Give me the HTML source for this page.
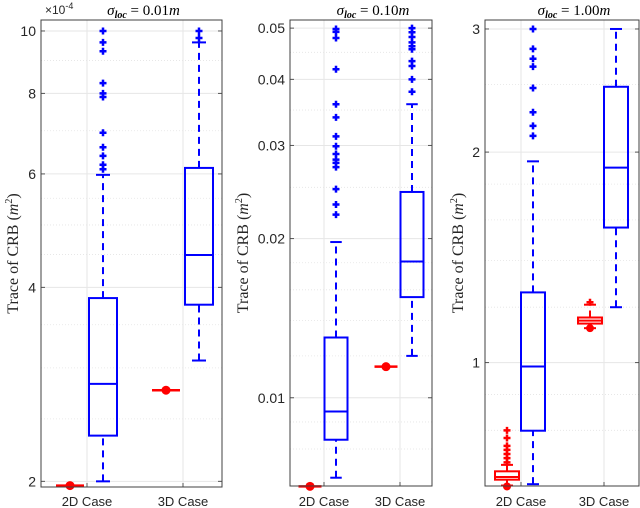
<!DOCTYPE html>
<html><head><meta charset="utf-8"><style>
html,body{margin:0;padding:0;background:#fff;}
svg{display:block;font-family:"Liberation Sans",Arial,sans-serif;}
</style></head><body>
<svg id="chart" width="640" height="508" viewBox="0 0 640 508" xmlns="http://www.w3.org/2000/svg"></svg>
<script>
// ---- data ----
const categories = ["2D Case","3D Case"];
const panelTitles = ["0.01m","0.10m","1.00m"];
const yTickLabels1 = [2,4,6,8,10];
const yTickLabels2 = [0.01,0.02,0.03,0.04,0.05];
const yTickLabels3 = [1,2,3];
// blue boxes: [lowWhisker, q1, median, q3, highWhisker]
const blue1 = [[2.0,2.355,2.834,3.85,5.98],[3.08,3.76,4.49,6.13,9.6]];
const blueOut1 = [[10,9.6,9.3,8.3,8.0,7.9,6.95,6.6,6.4,6.2,6.1],[10,9.75]];
const red1 = [[1.97,1.97,1.97,1.97,1.97],[2.77,2.77,2.77,2.77,2.77]];
const blue2 = [[0.00706,0.00833,0.00942,0.0130,0.0197],[0.0120,0.0155,0.0181,0.0245,0.0359]];
const blueOut2 = [[0.0498,0.0492,0.0479,0.0418,0.0359,0.0339,0.0312,0.0299,0.0289,0.0282,0.0278,0.0273,0.0248,0.0232,0.0222],[0.050,0.0491,0.0481,0.0470,0.0462,0.0456,0.0433,0.0424,0.0400,0.0379]];
const red2 = [[0.0068,0.0068,0.0068,0.0068,0.0068],[0.01145,0.01145,0.01145,0.01145,0.01145]];
const blue3 = [[0.67,0.799,0.987,1.26,1.94],[1.20,1.56,1.90,2.48,3.0]];
const blueOut3 = [[3.0,2.81,2.72,2.65,2.47,2.28,2.18,2.11],[]];
const red3 = [[0.667,0.68,0.686,0.699,0.714],[1.12,1.137,1.148,1.160,1.21]];
const redOut3 = [[0.80,0.78,0.76,0.75,0.74,0.73,0.72],[1.22]];
const redLowOut3 = [[0.665],[1.12]];

const panels = [
 {L:41,R:222,T:20,B:487,ymin:1.96,ymax:10.4,ticks:yTickLabels1,fmt:v=>String(v),tx:[87,183],blue:blue1,bout:blueOut1,red:red1,rout:[[],[]],rlow:[[],[]],degenerate:true,bw:28,labX:13,minor:[2.5,3,3.5,4.5,5,5.5,7,9]},
 {L:290,R:432,T:20,B:486,ymin:0.00681,ymax:0.0518,ticks:yTickLabels2,fmt:v=>v.toFixed(2),tx:[324,400],blue:blue2,bout:blueOut2,red:red2,rout:[[],[]],rlow:[[],[]],degenerate:true,bw:23,labX:243,minor:[0.008,0.009,0.012,0.014,0.016,0.018,0.025,0.035,0.045]},
 {L:485,R:639,T:20,B:486,ymin:0.666,ymax:3.09,ticks:yTickLabels3,fmt:v=>String(v),tx:[521,604],blue:blue3,bout:blueOut3,red:red3,rout:redOut3,rlow:redLowOut3,degenerate:false,bw:24,labX:458,minor:[0.8,0.9,1.2,1.4,1.6,1.8,2.5]}
];
const NS="http://www.w3.org/2000/svg";
const svg=document.getElementById('chart');
function mk(tag,attrs,parent){const e=document.createElementNS(NS,tag);for(const k in attrs)e.setAttribute(k,attrs[k]);(parent||svg).appendChild(e);return e;}
const BLUE="#0000ff",RED="#ff0000";

panels.forEach((p,pi)=>{
  const g=mk('g',{});
  
  
  const y=v=>p.B-(Math.log(v)-Math.log(p.ymin))/(Math.log(p.ymax)-Math.log(p.ymin))*(p.B-p.T);
  p.minor.forEach(v=>{const l=mk('line',{x1:p.L,x2:p.R,y1:y(v),y2:y(v),stroke:"#e4e4e4","stroke-width":0.8,"stroke-dasharray":"1,2"},g);
    });
  p.ticks.forEach(v=>{const l=mk('line',{x1:p.L,x2:p.R,y1:y(v),y2:y(v),stroke:"#e6e6e6","stroke-width":1},g);
    });
  p.tx.forEach(x=>{const l=mk('line',{x1:x,x2:x,y1:p.T,y2:p.B,stroke:"#e6e6e6","stroke-width":1},g);
    });
  p.ticks.forEach(v=>{
    mk('line',{x1:p.L,x2:p.L+4,y1:y(v),y2:y(v),stroke:"#555"},g);
    mk('line',{x1:p.R,x2:p.R-4,y1:y(v),y2:y(v),stroke:"#555"},g);
    const t=mk('text',{x:p.L-5,y:y(v)+5,"text-anchor":"end","font-size":14,fill:"#262626"},g);
    t.textContent=p.fmt(v);
    
  });
  p.tx.forEach((x,i)=>{
    mk('line',{x1:x,x2:x,y1:p.B,y2:p.B-4,stroke:"#555"},g);
    const t=mk('text',{x:x,y:506,"text-anchor":"middle","font-size":13,fill:"#262626"},g);
    t.textContent=categories[i];
    
  });
  const yl=mk('text',{x:0,y:0,transform:`translate(${p.labX+5},${(p.T+p.B)/2}) rotate(-90)`,"text-anchor":"middle","font-size":16,fill:"#262626","font-family":"Liberation Serif,serif"},g);
  yl.innerHTML='Trace of CRB (<tspan font-style="italic">m</tspan><tspan font-size="10" dy="-6">2</tspan><tspan dy="6">)</tspan>';
  
  const tt=mk('text',{x:(p.L+p.R)/2+12,y:15,"text-anchor":"middle","font-size":15,fill:"#000","font-family":"Liberation Serif,serif"},g);
  tt.innerHTML='<tspan font-style="italic">σ</tspan><tspan font-size="10" dy="3" font-style="italic" font-weight="bold">loc</tspan><tspan dy="-3"> = '+panelTitles[pi].slice(0,-1)+'</tspan><tspan font-style="italic">m</tspan>';
  
  if(pi===0){const e=mk('text',{x:45,y:14,"font-size":12,fill:"#262626"},g);
    e.innerHTML='×10<tspan font-size="9" dy="-5">-4</tspan>';
    }
  function drawBox(s,cx,color,outs,lows,name){
    const bg=mk('g',{},g);
    
    const hw=p.bw/2;
    mk('line',{x1:cx,x2:cx,y1:y(s[0]),y2:y(s[1]),stroke:color,"stroke-width":2,"stroke-dasharray":"7,5"},bg);
    mk('line',{x1:cx,x2:cx,y1:y(s[3]),y2:y(s[4]),stroke:color,"stroke-width":2,"stroke-dasharray":"7,5"},bg);
    mk('line',{x1:cx-hw/2,x2:cx+hw/2,y1:y(s[0]),y2:y(s[0]),stroke:color,"stroke-width":2},bg);
    mk('line',{x1:cx-hw/2,x2:cx+hw/2,y1:y(s[4]),y2:y(s[4]),stroke:color,"stroke-width":2},bg);
    mk('rect',{x:cx-hw,y:y(s[3]),width:p.bw,height:Math.max(0.5,y(s[1])-y(s[3])),fill:"none",stroke:color,"stroke-width":2},bg);
    mk('line',{x1:cx-hw,x2:cx+hw,y1:y(s[2]),y2:y(s[2]),stroke:color,"stroke-width":2},bg);
    outs.forEach(v=>{const yy=y(v);
      mk('path',{d:`M${cx-3.5},${yy}h7M${cx},${yy-3.5}v7`,stroke:color,"stroke-width":2.5},bg);});
    lows.forEach(v=>mk('circle',{cx:cx,cy:y(v),r:4,fill:color},bg));
  }
  for(let i=0;i<2;i++){
    const rx=p.tx[i]-(pi===0?17:14), bx=p.tx[i]+(pi===0?16:12);
    if(p.degenerate){
      const rg=mk('g',{},g);
      
      const yy=y(p.red[i][2]);
      mk('line',{x1:rx-p.bw/2,x2:rx+p.bw/2,y1:yy,y2:yy,stroke:RED,"stroke-width":2.5},rg);
      mk('circle',{cx:rx,cy:yy,r:4.5,fill:RED},rg);
    } else drawBox(p.red[i],rx,RED,p.rout[i],p.rlow[i],'red-box-'+(i+1));
    drawBox(p.blue[i],bx,BLUE,p.bout[i],[],'blue-box-'+(i+1));
  }
  const fr=mk('rect',{x:p.L,y:p.T,width:p.R-p.L,height:p.B-p.T,fill:"none",stroke:"#404040","stroke-width":1},g);
  
});
</script>
</body></html>
